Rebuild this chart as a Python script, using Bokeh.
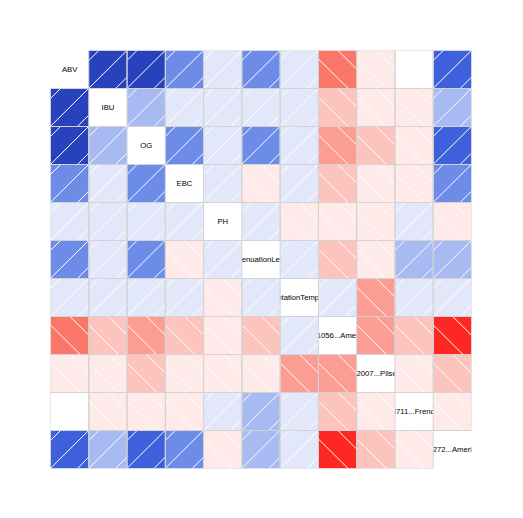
import math
from bokeh.plotting import figure
from bokeh.models import ColumnDataSource, Range1d
from bokeh.transform import linear_cmap
from bokeh.embed import file_html
from bokeh.resources import INLINE
from bokeh.core.properties import value

labels = ["ABV", "IBU", "OG", "EBC", "PH", "AttenuationLevel",
          "FermentationTemperature", "Wyeast.1056...American.Ale",
          "Wyeast.2007...Pilsen.Lager", "Wyeast.3711...French.Saison",
          "Wyeast.1272...American.Ale.II"]

NA = float("nan")
r_abv  = [1.00, 0.62, 0.68, 0.33, 0.05, 0.31, 0.06, -0.50, -0.07, NA, 0.50]
r_ibu  = [0.62, 1.00, 0.22, 0.07, 0.04, 0.08, 0.05, -0.25, -0.08, -0.05, 0.20]
r_og   = [0.68, 0.22, 1.00, 0.35, 0.06, 0.38, 0.04, -0.38, -0.20, -0.06, 0.47]
r_ebc  = [0.33, 0.07, 0.35, 1.00, 0.03, -0.05, 0.04, -0.22, -0.09, -0.04, 0.32]
r_ph   = [0.05, 0.04, 0.06, 0.03, 1.00, 0.02, -0.03, -0.06, -0.02, 0.05, -0.04]
r_att  = [0.31, 0.08, 0.38, -0.05, 0.02, 1.00, 0.07, -0.19, -0.10, 0.18, 0.24]
r_temp = [0.06, 0.05, 0.04, 0.04, -0.03, 0.07, 1.00, 0.03, -0.33, 0.08, 0.09]
r_1056 = [-0.50, -0.25, -0.38, -0.22, -0.06, -0.19, 0.03, 1.00, -0.36, -0.21, -0.75]
r_2007 = [-0.07, -0.08, -0.20, -0.09, -0.02, -0.10, -0.33, -0.36, 1.00, -0.05, -0.17]
r_3711 = [NA, -0.05, -0.06, -0.04, 0.05, 0.18, 0.08, -0.21, -0.05, 1.00, -0.06]
r_1272 = [0.50, 0.20, 0.47, 0.32, -0.04, 0.24, 0.09, -0.75, -0.17, -0.06, 1.00]

rows = [r_abv, r_ibu, r_og, r_ebc, r_ph, r_att, r_temp, r_1056, r_2007, r_3711, r_1272]

# red - salmon - white - royalblue - navy, 14 levels
palette = ["#FF0000", "#FD2723", "#FC4F46", "#FA7669", "#FB9D93", "#FDC4BE", "#FEEBE9",
           "#E2E8FA", "#A7BAF1", "#6D8CE8", "#3C61DA", "#2841BC", "#14209E", "#000080"]

n = len(labels)
CELL_PX = 38.2
pos_offsets = [10 / CELL_PX, 38 / CELL_PX, 65 / CELL_PX]      # "/" hatch
neg_offsets = [-8.5 / CELL_PX, 19.5 / CELL_PX]                # "\" hatch

cx, cy, cr = [], [], []
hx0, hy0, hx1, hy1 = [], [], [], []
for i, row in enumerate(rows):
    for j, r in enumerate(row):
        if i == j:
            continue
        x = j + 0.5
        y = n - i - 0.5
        cx.append(x); cy.append(y); cr.append(r)
        if isinstance(r, float) and math.isnan(r):
            continue
        left, top = j, n - i
        if r > 0:
            for s in pos_offsets:
                u0, u1 = max(0.0, s - 1), min(1.0, s)
                if u1 <= u0:
                    continue
                hx0.append(left + u0); hy0.append(top - (s - u0))
                hx1.append(left + u1); hy1.append(top - (s - u1))
        else:
            for d in neg_offsets:
                u0, u1 = max(0.0, d), min(1.0, 1 + d)
                if u1 <= u0:
                    continue
                hx0.append(left + u0); hy0.append(top - (u0 - d))
                hx1.append(left + u1); hy1.append(top - (u1 - d))

cells = ColumnDataSource(dict(x=cx, y=cy, r=cr))
hatch = ColumnDataSource(dict(x0=hx0, y0=hy0, x1=hx1, y1=hy1))
diag = ColumnDataSource(dict(x=[k + 0.5 for k in range(n)],
                             y=[n - k - 0.5 for k in range(n)],
                             t=labels))

p = figure(width=507, height=502, x_range=Range1d(0, n), y_range=Range1d(0, n),
           x_axis_location=None, y_axis_location=None,
           toolbar_location=None, output_backend="svg",
           min_border_left=50, min_border_right=36,
           min_border_top=50, min_border_bottom=34)
p.grid.visible = False
p.outline_line_color = None
p.background_fill_color = "white"
p.border_fill_color = "white"

p.text(x="x", y="y", text="t", source=diag, text_align="center",
       text_baseline="middle", text_font=value("Liberation Sans"),
       text_font_size="7.7px", text_color="black")

p.rect(x="x", y="y", width=1, height=1, source=cells,
       fill_color=linear_cmap("r", palette, -1, 1, nan_color="white"),
       line_color=None)

p.segment(x0="x0", y0="y0", x1="x1", y1="y1", source=hatch,
          line_color="white", line_width=1)

p.rect(x="x", y="y", width=1, height=1, source=cells,
       fill_color=None, line_color="#D3D3D3", line_width=1)

open("out.html", "w").write(file_html(p, INLINE))
